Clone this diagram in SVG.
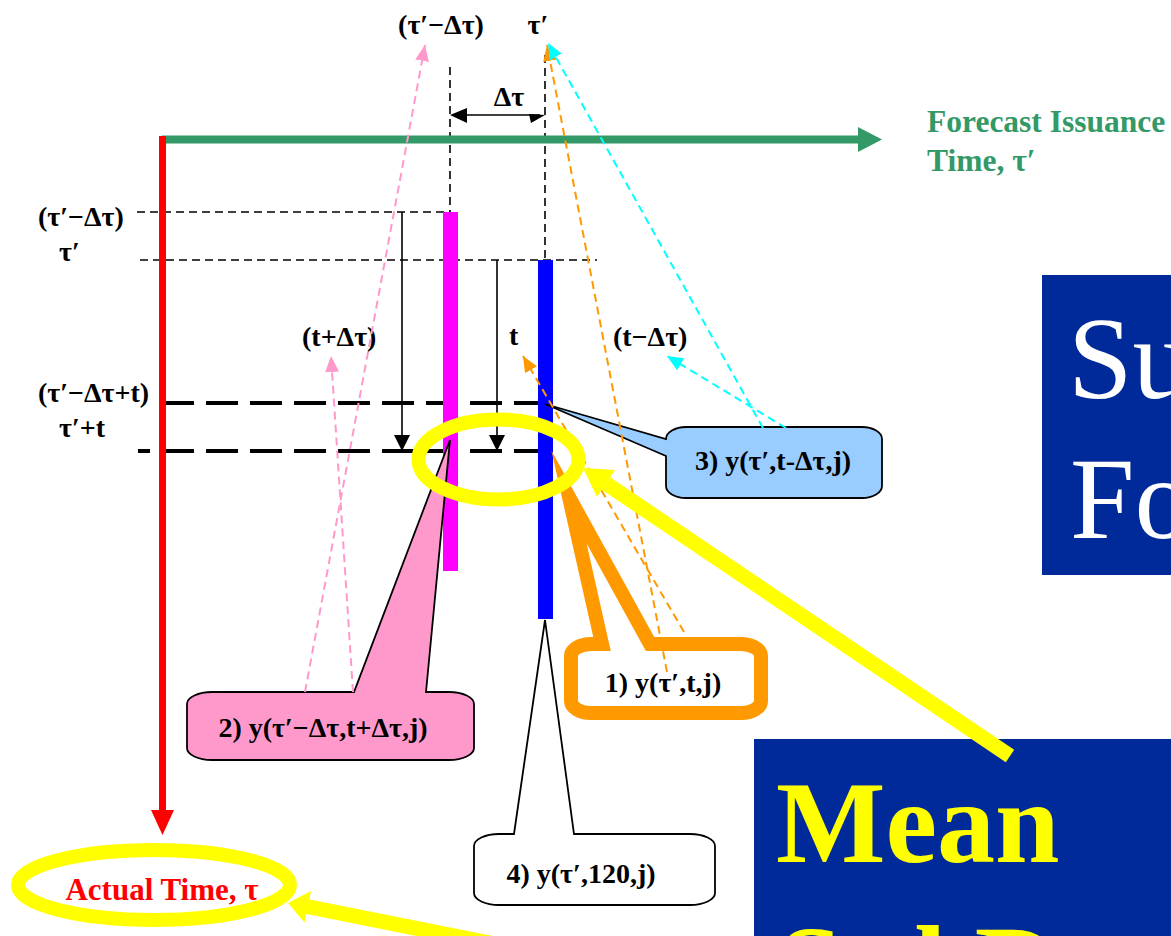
<svg xmlns="http://www.w3.org/2000/svg" width="1171" height="936" viewBox="0 0 1171 936">
<style>
  .lbl { font-family: "Liberation Serif", "Times New Roman", serif; font-weight: bold; font-size: 28px; fill: #000; }
  .mid { text-anchor: middle; }
  .thin { stroke: #000; stroke-width: 1.6; stroke-dasharray: 8 5; fill: none; }
  .thick { stroke: #000; stroke-width: 4; stroke-dasharray: 32 12; fill: none; }
  .blk { stroke: #000; stroke-width: 1.6; fill: none; }
  .call { stroke: #000; stroke-width: 1.8; }
  .pk { stroke: #ff99cc; stroke-width: 2; stroke-dasharray: 8 5; fill: none; }
  .or { stroke: #ff9900; stroke-width: 2; stroke-dasharray: 8 5; fill: none; }
  .cy { stroke: #00ffff; stroke-width: 2; stroke-dasharray: 8 5; fill: none; }
  .yel { stroke: #ffff00; fill: none; }
  .big { font-family: "Liberation Serif", "Times New Roman", serif; font-size: 116px; }
</style>
<defs>
  <marker id="mPink" markerUnits="userSpaceOnUse" markerWidth="16" markerHeight="14" refX="16" refY="7" orient="auto"><path d="M0,0 L16,7 L0,14 z" fill="#ff99cc"/></marker>
  <marker id="mOrange" markerUnits="userSpaceOnUse" markerWidth="16" markerHeight="14" refX="16" refY="7" orient="auto"><path d="M0,0 L16,7 L0,14 z" fill="#ff9900"/></marker>
  <marker id="mCyan" markerUnits="userSpaceOnUse" markerWidth="16" markerHeight="14" refX="16" refY="7" orient="auto"><path d="M0,0 L16,7 L0,14 z" fill="#00ffff"/></marker>
</defs>
<rect width="1171" height="936" fill="#fff"/>

<g id="guides">
  <line class="thin" x1="450" y1="67" x2="450" y2="212"/>
  <line class="thin" x1="545" y1="55" x2="545" y2="260"/>
  <line class="thin" x1="137" y1="212" x2="450" y2="212"/>
  <line class="thin" x1="140" y1="260" x2="597" y2="260"/>
  <line class="thick" x1="162" y1="403" x2="540" y2="403"/>
  <line class="thick" x1="138" y1="451" x2="540" y2="451" stroke-dashoffset="20"/>
</g>

<g id="delta-arrow">
  <line class="blk" x1="455" y1="115" x2="540" y2="115"/>
  <polygon points="450,115 467,108 467,123" fill="#000"/>
  <polygon points="545,115 529,114 531,123" fill="#000"/>
  <text class="lbl mid" x="509" y="106">Δτ</text>
</g>

<g id="lead-arrows">
  <line class="blk" x1="402" y1="212" x2="402" y2="437"/>
  <polygon points="394,435 410,435 402,451" fill="#000"/>
  <line class="blk" x1="497" y1="260" x2="497" y2="437"/>
  <polygon points="489,435 505,435 497,451" fill="#000"/>
</g>

<g id="bar-magenta"><rect x="443" y="212" width="15" height="359" fill="#ff00ff"/></g>
<g id="bar-blue"><rect x="538" y="260" width="15" height="359" fill="#0000ff"/></g>

<g id="axis-issuance">
  <line x1="162" y1="139.5" x2="860" y2="139.5" stroke="#339966" stroke-width="8"/>
  <polygon points="858,127 882,139.5 858,152" fill="#339966"/>
  <text x="927" y="132" font-family="Liberation Serif, Times New Roman, serif" font-weight="bold" font-size="31.5" fill="#339966">Forecast Issuance</text>
  <text x="927" y="171" font-family="Liberation Serif, Times New Roman, serif" font-weight="bold" font-size="31.5" fill="#339966">Time, τ′</text>
</g>

<g id="axis-actual">
  <line x1="162.5" y1="136" x2="162.5" y2="812" stroke="#ff0000" stroke-width="7"/>
  <polygon points="151,810 174,810 162.5,835" fill="#ff0000"/>
  <text x="162" y="900" text-anchor="middle" font-family="Liberation Serif, Times New Roman, serif" font-weight="bold" font-size="31" fill="#ff0000">Actual Time, τ</text>
</g>

<g id="labels">
  <text class="lbl mid" x="441" y="34">(τ′−Δτ)</text>
  <text class="lbl mid" x="538" y="34">τ′</text>
  <text class="lbl" x="38" y="226">(τ′−Δτ)</text>
  <text class="lbl" x="59" y="261">τ′</text>
  <text class="lbl" x="38" y="402">(τ′−Δτ+t)</text>
  <text class="lbl" x="59" y="437">τ′+t</text>
  <text class="lbl" x="302" y="346">(t+Δτ)</text>
  <text class="lbl" x="509" y="345">t</text>
  <text class="lbl" x="613" y="346">(t−Δτ)</text>
</g>

<g id="callout-2">
  <path class="call" fill="#ff99cc" d="M187,704 A25,12 0 0 1 212,692 L354,692 L450,440 L426,692 L449,692 A25,12 0 0 1 474,704 L474,748 A25,12 0 0 1 449,760 L212,760 A25,12 0 0 1 187,748 Z"/>
  <text class="lbl mid" x="323" y="737">2) y(τ′−Δτ,t+Δτ,j)</text>
</g>

<g id="callout-3">
  <path class="call" fill="#99ccff" d="M666,439 A20,12 0 0 1 686,427 L862,427 A20,12 0 0 1 882,439 L882,486 A20,12 0 0 1 862,498 L686,498 A20,12 0 0 1 666,486 L666,456 L545,404 Z"/>
  <text class="lbl mid" x="773" y="470">3) y(τ′,t-Δτ,j)</text>
</g>

<g id="callout-1">
  <path fill="#fff" stroke="#ff9900" stroke-width="14" stroke-linejoin="miter" stroke-miterlimit="30" d="M571,656 A20,12 0 0 1 591,644 L602,644 L569,497 L650,644 L741,644 A20,12 0 0 1 761,656 L761,701 A20,12 0 0 1 741,713 L591,713 A20,12 0 0 1 571,701 Z"/>
  <text class="lbl mid" x="663" y="692">1) y(τ′,t,j)</text>
</g>

<g id="callout-4">
  <path class="call" fill="#fff" d="M474,846 A25,12 0 0 1 499,834 L514,834 L545,620 L574,834 L690,834 A25,12 0 0 1 715,846 L715,893 A25,12 0 0 1 690,905 L499,905 A25,12 0 0 1 474,893 Z"/>
  <text class="lbl mid" x="581" y="883">4) y(τ′,120,j)</text>
</g>

<g id="connectors">
  <line class="pk" x1="305" y1="692" x2="425" y2="45" marker-end="url(#mPink)"/>
  <line class="pk" x1="353" y1="692" x2="331" y2="356" marker-end="url(#mPink)"/>
  <line class="or" x1="667" y1="672" x2="547" y2="45" marker-end="url(#mOrange)"/>
  <line class="or" x1="684" y1="632" x2="523" y2="356" marker-end="url(#mOrange)"/>
  <line class="cy" x1="763" y1="428" x2="548" y2="43" marker-end="url(#mCyan)"/>
  <line class="cy" x1="786" y1="428" x2="667" y2="356" marker-end="url(#mCyan)"/>
</g>

<g id="box-summary">
  <rect x="1042" y="275" width="129" height="300" fill="#002a9a"/>
  <text class="big" x="1068" y="398" fill="#fff">Su</text>
  <text class="big" x="1070" y="538" fill="#fff">Fo</text>
</g>

<g id="box-mean">
  <rect x="754" y="739" width="417" height="197" fill="#002a9a"/>
  <text class="big" x="776" y="862" font-weight="bold" fill="#ffff00">Mean</text>
  <text class="big" x="778" y="1006" font-weight="bold" fill="#ffff00">Std Dev</text>
</g>

<g id="highlights">
  <ellipse class="yel" cx="498.5" cy="459.5" rx="80" ry="40" stroke-width="14"/>
  <ellipse class="yel" cx="154" cy="885" rx="136" ry="35" stroke-width="14"/>
  <line x1="1010" y1="756" x2="606" y2="483.5" stroke="#ffff00" stroke-width="15"/>
  <polygon points="583,468 615,470 597,497" fill="#ffff00"/>
  <line x1="307" y1="906.5" x2="700" y2="985" stroke="#ffff00" stroke-width="15"/>
  <polygon points="288,903 311,891 304.5,922.6" fill="#ffff00"/>
</g>
</svg>
